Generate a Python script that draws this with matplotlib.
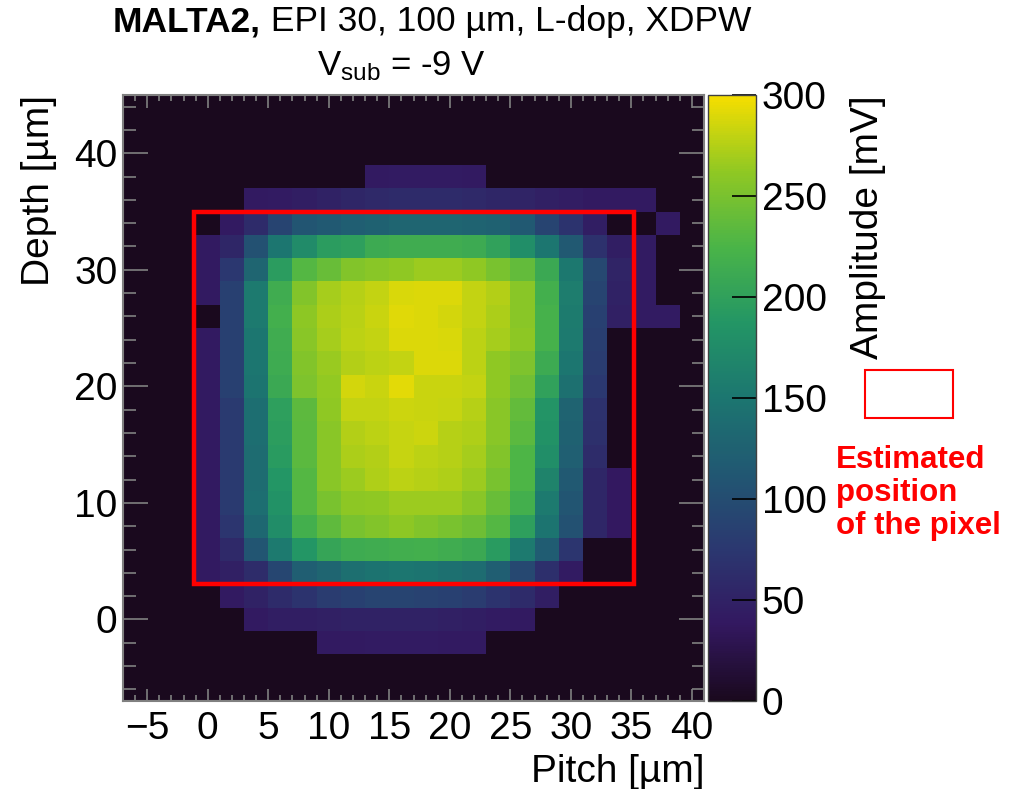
import numpy as np
import matplotlib
matplotlib.use("Agg")
import matplotlib.pyplot as plt
from matplotlib.colors import LinearSegmentedColormap
from matplotlib.patches import Rectangle
from matplotlib.ticker import MultipleLocator

plt.rcParams['font.family'] = ['Liberation Sans', 'DejaVu Sans']
plt.rcParams['mathtext.fontset'] = 'custom'
plt.rcParams['mathtext.rm'] = 'Liberation Sans'
plt.rcParams['mathtext.it'] = 'Liberation Sans:italic'
plt.rcParams['mathtext.bf'] = 'Liberation Sans:bold'

# ---------------- data ----------------
pitch_um = [-6, -4, -2, 0, 2, 4, 6, 8, 10, 12, 14, 16, 18, 20, 22, 24, 26, 28, 30, 32, 34, 36, 38, 40]
depth_um = [44, 42, 40, 38, 36, 34, 32, 30, 28, 26, 24, 22, 20, 18, 16, 14, 12, 10, 8, 6, 4, 2, 0, -2, -4, -6]
amplitude_mV = [
    [0]*24,                                                                                           # 44
    [0]*24,                                                                                           # 42
    [0]*24,                                                                                           # 40
    [0,0,0, 0, 0, 0, 0, 0, 0, 0, 40, 42, 42, 42, 40, 0, 0, 0, 0, 0, 0, 0, 0, 0],                      # 38
    [0,0,0, 0, 0, 40, 42, 45, 50, 55, 58, 60, 60, 60, 58, 55, 52, 48, 44, 40, 40, 40, 0, 0],          # 36
    [0,0,0, 0, 40, 60, 90, 110, 115, 120, 125, 130, 130, 130, 128, 125, 115, 90, 70, 45, 0, 0, 40, 0],  # 34
    [0,0,0, 40, 55, 105, 150, 175, 195, 198, 212, 215, 215, 215, 212, 200, 178, 150, 115, 68, 45, 42, 0, 0],  # 32
    [0,0,0, 40, 75, 130, 195, 230, 240, 255, 258, 262, 266, 266, 262, 250, 238, 210, 152, 95, 52, 42, 0, 0],  # 30
    [0,0,0, 40, 85, 155, 215, 255, 270, 276, 280, 289, 290, 290, 280, 275, 258, 218, 158, 90, 50, 42, 0, 0],  # 28
    [0,0,0, 0, 85, 155, 218, 260, 272, 277, 283, 291, 290, 287, 281, 272, 258, 220, 156, 85, 48, 42, 42, 0],  # 26
    [0,0,0, 40, 85, 150, 215, 258, 270, 278, 280, 290, 290, 289, 278, 270, 260, 220, 155, 83, 0, 0, 0, 0],  # 24
    [0,0,0, 40, 85, 150, 213, 255, 265, 275, 278, 280, 290, 290, 278, 262, 252, 212, 150, 80, 0, 0, 0, 0],  # 22
    [0,0,0, 40, 85, 148, 210, 252, 263, 287, 283, 292, 283, 283, 280, 262, 245, 200, 143, 76, 0, 0, 0, 0],  # 20
    [0,0,0, 40, 78, 140, 198, 235, 262, 280, 280, 284, 283, 282, 276, 258, 238, 185, 128, 68, 0, 0, 0, 0],  # 18
    [0,0,0, 40, 78, 140, 196, 233, 258, 275, 278, 282, 284, 276, 273, 258, 233, 183, 125, 66, 0, 0, 0, 0],  # 16
    [0,0,0, 40, 78, 138, 193, 233, 258, 272, 275, 282, 278, 276, 270, 255, 226, 178, 122, 62, 0, 0, 0, 0],  # 14
    [0,0,0, 40, 78, 138, 188, 230, 258, 267, 273, 278, 276, 273, 267, 250, 226, 165, 115, 55, 38, 0, 0, 0],  # 12
    [0,0,0, 40, 78, 140, 183, 230, 250, 260, 262, 266, 266, 266, 258, 240, 218, 155, 110, 55, 38, 0, 0, 0],  # 10
    [0,0,0, 40, 72, 132, 177, 218, 236, 250, 255, 260, 255, 250, 244, 230, 198, 148, 105, 55, 38, 0, 0, 0],  # 8
    [0,0,0, 40, 58, 110, 155, 188, 205, 213, 215, 217, 218, 215, 210, 193, 155, 118, 72, 0, 0, 0, 0, 0],  # 6
    [0,0,0, 40, 48, 62, 92, 120, 130, 142, 147, 150, 148, 143, 138, 120, 95, 65, 42, 0, 0, 0, 0, 0],   # 4
    [0,0,0, 0, 40, 50, 60, 70, 80, 85, 90, 90, 88, 85, 80, 70, 60, 45, 0, 0, 0, 0, 0, 0],             # 2
    [0,0,0, 0, 0, 40, 45, 45, 48, 50, 50, 50, 50, 48, 45, 42, 40, 0, 0, 0, 0, 0, 0, 0],               # 0
    [0,0,0, 0, 0, 0, 0, 0, 40, 40, 42, 42, 42, 40, 40, 0, 0, 0, 0, 0, 0, 0, 0, 0],                    # -2
    [0]*24,                                                                                           # -4
    [0]*24,                                                                                           # -6
]
pixel_x_um = [-1.1, 35.2]
pixel_y_um = [3.0, 35.0]
amp_ticks = [0, 50, 100, 150, 200, 250, 300]

# ROOT kViridis palette
r = [26, 51, 43, 33, 28, 35, 74, 144, 246]
g = [9, 24, 55, 87, 118, 150, 180, 200, 222]
b = [30, 96, 112, 114, 112, 101, 72, 35, 0]
stops = np.linspace(0, 1, len(r))
cmap = LinearSegmentedColormap.from_list(
    "root_viridis", [(s, (ri/255, gi/255, bi/255)) for s, ri, gi, bi in zip(stops, r, g, b)], N=255)

W, H = 1022, 789
fig = plt.figure(figsize=(W/100, H/100), dpi=100)
ax = fig.add_axes([123/W, 88/H, 581/W, 606/H])

x = np.array(pitch_um, float)
y = np.array(depth_um, float)[::-1]
Z = np.array(amplitude_mV, float)[::-1]
xe = np.concatenate([x - 1, [x[-1] + 1]])
ye = np.concatenate([y - 1, [y[-1] + 1]])
mesh = ax.pcolormesh(xe, ye, Z, cmap=cmap, vmin=0, vmax=300, shading='flat')
ax.set_xlim(-7, 41)
ax.set_ylim(-7, 45)

ax.add_patch(Rectangle((pixel_x_um[0], pixel_y_um[0]), pixel_x_um[1]-pixel_x_um[0],
                       pixel_y_um[1]-pixel_y_um[0], fill=False, edgecolor='#ff0000', lw=3.2, zorder=5))

grey = '#808080'
for s in ax.spines.values():
    s.set_color(grey)
    s.set_linewidth(1.5)
ax.xaxis.set_major_locator(MultipleLocator(5))
ax.xaxis.set_minor_locator(MultipleLocator(1))
ax.yaxis.set_major_locator(MultipleLocator(10))
ax.yaxis.set_minor_locator(MultipleLocator(2))
ax.tick_params(which='both', direction='in', top=True, right=True, color=grey, width=1.2,
               labelsize=28)
ax.tick_params(axis='x', which='major', length=9, pad=7)
ax.tick_params(axis='x', which='minor', length=4.5)
ax.tick_params(axis='y', which='major', length=18, pad=4)
ax.tick_params(axis='y', which='minor', length=9)

ax.set_xlabel("Pitch [µm]", fontsize=28, loc='right', labelpad=5)
ax.set_ylabel("Depth [µm]", fontsize=28, loc='top', labelpad=12)

# colorbar
cax = fig.add_axes([708/W, 88/H, 48/W, 606/H])
cb = fig.colorbar(mesh, cax=cax, ticks=amp_ticks)
cb.outline.set_linewidth(1.0)
cb.outline.set_edgecolor('#404040')
cax.tick_params(direction='in', length=17, width=1.2, color='black', labelsize=28, pad=4)
cax.minorticks_off()
cb.set_label("Amplitude [mV]", fontsize=28, loc='top', labelpad=17)

# title (bold part + normal part, centred together)
renderer = fig.canvas.get_renderer()
t_bold = fig.text(0, 1 - 22/H, "MALTA2,", fontweight='bold', fontsize=25.5, ha='left', va='center')
t_norm = fig.text(0, 1 - 22/H, " EPI 30, 100 µm, L-dop, XDPW", fontsize=25.5, ha='left', va='center')
wb = t_bold.get_window_extent(renderer).width
wn = t_norm.get_window_extent(renderer).width
x0 = 432 - (wb + wn) / 2
t_bold.set_x(x0 / W)
t_norm.set_x((x0 + wb) / W)
fig.text(401/W, 1 - 66/H, r"V$_{\mathrm{sub}}$ = -9 V", ha='center', va='center', fontsize=25)

# legend-like annotation
fig.patches.append(Rectangle((865/W, 1 - 418/H), 88/W, 48/H, transform=fig.transFigure,
                             fill=False, edgecolor='#ff0000', lw=1.5, figure=fig))
fig.text(836/W, 1 - 445/H, "Estimated\nposition\nof the pixel", color='#ff0000',
         fontweight='bold', fontsize=22.5, ha='left', va='top', linespacing=1.12)

fig.savefig("out.png", dpi=100)
